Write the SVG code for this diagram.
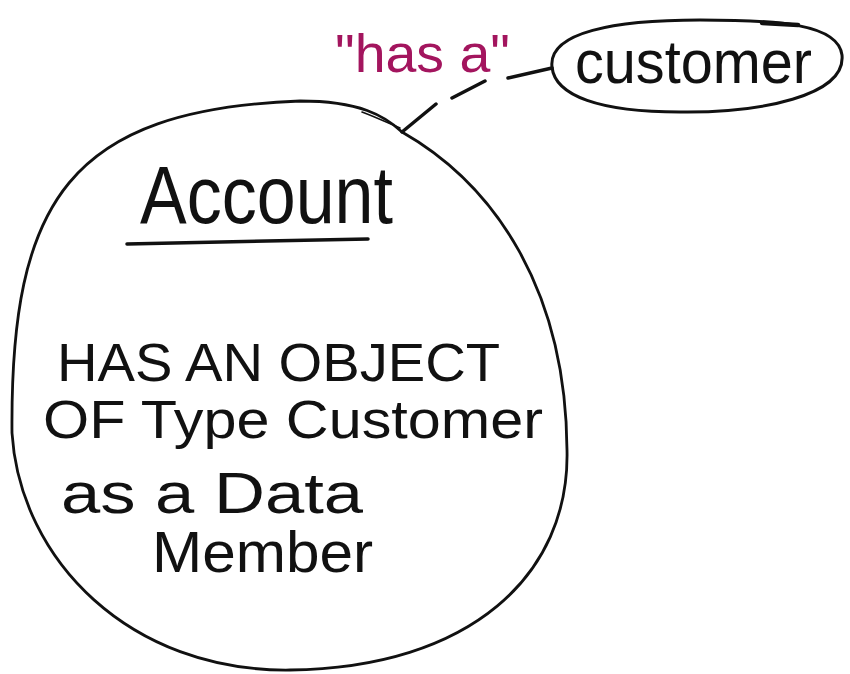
<svg xmlns="http://www.w3.org/2000/svg" width="850" height="674" viewBox="0 0 850 674">
  <style>
    .ink { fill: none; stroke: #111; stroke-linecap: round; stroke-linejoin: round; }
    .hand { font-family: "Liberation Sans", "DejaVu Sans", sans-serif; fill: #111; }
    .magenta { fill: #a3155e; }
  </style>
  <rect width="850" height="674" fill="#ffffff"/>

  <!-- Account: large hand-drawn circle -->
  <g id="account">
    <path class="ink" stroke-width="2.8"
          d="M300,101 C360,101 385,116 402,132 C495,185 566,290 567,450 C570,575 470,668 290,670 C130,672 20,560 12,433 C10,200 70,110 300,101 Z"/>
    <!-- doubled stroke where the pen overlapped -->
    <path class="ink" stroke-width="1.6" d="M362,112 C378,118 390,124 400,128"/>
    <text class="hand" x="140" y="223" font-size="82" textLength="253" lengthAdjust="spacingAndGlyphs">Account</text>
    <path class="ink" stroke-width="3.5" d="M127,244 L368,239"/>
    <text class="hand" x="57" y="381" font-size="54" textLength="443" lengthAdjust="spacingAndGlyphs">HAS AN OBJECT</text>
    <text class="hand" x="43" y="438" font-size="54" textLength="500" lengthAdjust="spacingAndGlyphs">OF Type Customer</text>
    <text class="hand" x="61" y="513" font-size="58" textLength="302" lengthAdjust="spacingAndGlyphs">as a Data</text>
    <text class="hand" x="152" y="572" font-size="58" textLength="221" lengthAdjust="spacingAndGlyphs">Member</text>
  </g>

  <!-- customer: small oval -->
  <g id="customer">
    <path class="ink" stroke-width="3"
          d="M552,67 C548,32 615,20 700,20 C780,20 838,24 842,55 C846,96 760,113 680,112 C600,112 555,96 552,67 Z"/>
    <path class="ink" stroke-width="4.5" d="M762,23 L798,25"/>
    <text class="hand" x="575" y="83" font-size="62" textLength="237" lengthAdjust="spacingAndGlyphs">customer</text>
  </g>

  <!-- relationship label -->
  <g id="has-a">
    <text class="hand magenta" x="335" y="72" font-size="54" textLength="175" lengthAdjust="spacingAndGlyphs">"has a"</text>
  </g>

  <!-- dashed connector between the two nodes -->
  <g id="connectors">
    <path class="ink" stroke-width="3.5" d="M402,132 L436,104 M452,98 L485,81 M508,78 L552,68"/>
  </g>
</svg>
